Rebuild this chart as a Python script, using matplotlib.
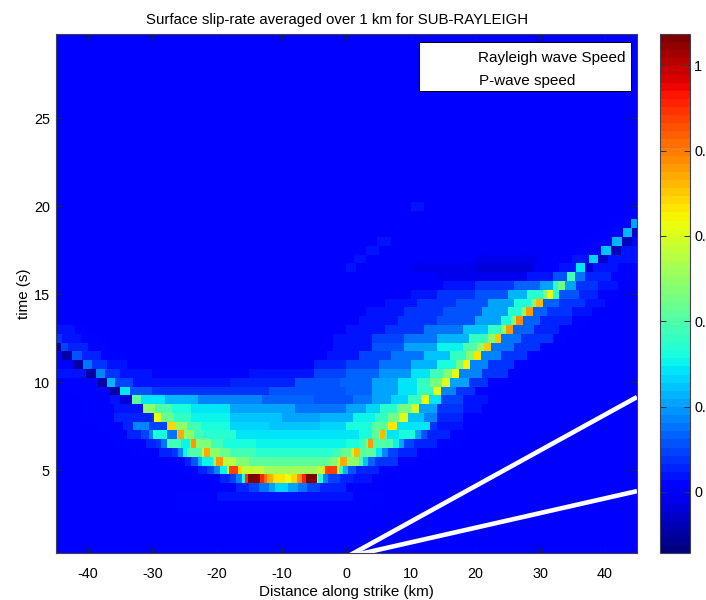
import matplotlib
matplotlib.use("Agg")
import matplotlib.pyplot as plt
from matplotlib.colors import Normalize
from matplotlib.cm import ScalarMappable

plt.rcParams['font.family'] = ['Liberation Sans', 'DejaVu Sans']
plt.rcParams['axes.unicode_minus'] = False

# Each row: (left edge of a cell in km, slip-rate in the cell); last pair closes the row
row_030 = [(-26,.015),(4,0)]
row_035 = [(-26,.015),(-20,.03),(-4,.03),(1,.02),(6,0)]
row_040 = [(-21,.02),(-17,.05),(-15,.09),(-13.5,.15),(-12,.2),(-11,.26),(-9,.2),(-7.5,.15),(-6,.09),(-4,.05),(0,.02),(3,0)]
row_045 = [(-21,.02),(-19.5,.05),(-18,.1),(-17,.17),(-16.2,.34),(-15.6,.9),(-15.2,1.07),(-13.4,.92),(-12.8,.82),(-12.2,.74),(-11.4,.66),(-9.5,.63),(-8.6,.68),(-7.6,.78),(-6.9,.92),(-6.3,1.07),(-4.6,.6),(-4.3,.34),(-3.6,.17),(-2.8,.1),(-1,.06),(1,.03),(4,0)]
row_050 = [(-26,.02),(-23,.05),(-21.5,.1),(-20.5,.17),(-19.6,.3),(-18.5,.6),(-18.2,.87),(-16.7,.68),(-16.2,.56),(-12.8,.52),(-6.5,.52),(-4.5,.56),(-3.6,.68),(-3.3,.87),(-1.5,.55),(-1.1,.38),(-.5,.22),(.3,.12),(1.5,.05),(5,.02),(8,0)]
row_055 = [(-28,.02),(-25,.05),(-24,.12),(-23,.22),(-22.4,.3),(-20.6,.5),(-20.2,.76),(-19.1,.55),(-17,.47),(-15,.42),(-5,.42),(-2.5,.47),(-1.4,.55),(-1,.74),(.1,.5),(2,.38),(2.6,.25),(3.4,.13),(4.5,.07),(8,.02),(11,0)]
row_060 = [(-33,.02),(-29,.05),(-27,.08),(-26,.18),(-25.3,.3),(-24.6,.4),(-22.3,.55),(-22,.74),(-21.1,.5),(-19.5,.44),(-18,.37),(-14,.34),(-6,.34),(-2,.37),(-.6,.44),(.8,.55),(1.2,.72),(2.2,.42),(4.6,.28),(5.5,.18),(6.5,.1),(8,.05),(11,.02),(14,0)]
row_065 = [(-35,.02),(-31,.05),(-29.5,.08),(-28.6,.16),(-27.8,.38),(-25.6,.3),(-24.2,.45),(-24,.76),(-23.2,.48),(-21,.38),(-19,.33),(-14,.31),(-5,.31),(0,.33),(2,.38),(3,.46),(3.3,.75),(4.1,.4),(7.3,.3),(8.2,.2),(9,.1),(10.5,.05),(14,.02),(17,0)]
row_070 = [(-37,.02),(-34,.05),(-31.8,.1),(-30.6,.18),(-29.9,.33),(-27.8,.16),(-26.2,.45),(-26,.74),(-25.1,.5),(-23.5,.38),(-22,.34),(-17,.29),(-3,.29),(2,.33),(4,.42),(5,.5),(5.2,.72),(5.95,.38),(6.3,.28),(8.2,.33),(10.6,.2),(11.5,.11),(12.5,.05),(16,.02),(19,0)]
row_075 = [(-38,.02),(-34.5,.06),(-33,.18),(-30.6,.1),(-27.8,.68),(-26.4,.5),(-24.6,.38),(-22.5,.32),(-18,.27),(-12,.24),(-4,.26),(0,.33),(4,.42),(6.5,.67),(7.9,.28),(13,.08),(14,.03),(18,0)]
row_080 = [(-40,.01),(-36,.05),(-30,.07),(-29.7,.62),(-28.6,.44),(-26.6,.36),(-24,.31),(-18,.24),(-10,.2),(-4,.23),(1,.3),(4.5,.36),(6.5,.46),(8.2,.6),(9.6,.24),(12,.17),(14,.06),(18,.02),(21,0)]
row_085 = [(-40,.02),(-36,.04),(-31.5,.5),(-29.6,.4),(-27,.33),(-24,.28),(-18,.2),(-8,.15),(0,.2),(3,.26),(5.3,.34),(7.9,.46),(10,.58),(11.2,.2),(14,.08),(18,.03),(21,0)]
row_090 = [(-40,.01),(-36.5,.03),(-35,-.03),(-33.2,.42),(-31.7,.28),(-28,.23),(-23,.18),(-13,.14),(-5,.12),(1,.15),(4,.2),(7,.27),(9.5,.36),(11.5,.62),(12.8,.28),(14.6,.1),(18,.03),(22,0)]
row_095 = [(-42,.01),(-36.6,-.1),(-35,.28),(-33.5,.12),(-30,.07),(-22,.08),(-12,.11),(0,.14),(4,.2),(8,.28),(11,.36),(13.4,.62),(14.6,.18),(17,.07),(20,.02),(23,0)]
row_100 = [(-44,.02),(-38.4,-.1),(-37,.22),(-35.8,.1),(-33,.03),(-18,.06),(-8,.11),(-1,.14),(4,.2),(8,.28),(11,.36),(13,.45),(14.8,.6),(16,.2),(19,.07),(22,.02),(25,0)]
row_105 = [(-45,.03),(-40.3,-.1),(-38.8,.18),(-37.3,.08),(-35,.03),(-30,.01),(-15,.04),(-5,.09),(0,.13),(5,.19),(10,.28),(13,.38),(15,.47),(16.4,.62),(17.5,.18),(21,.07),(25,.02),(27,0)]
row_110 = [(-45,.02),(-42.3,-.1),(-40.8,.15),(-39.3,.08),(-37,.03),(-34,0),(-5,.05),(0,.09),(5,.15),(10,.23),(14,.33),(17,.46),(18.1,.65),(19.2,.18),(22,.07),(26,.02),(28,0)]
row_115 = [(-45,.01),(-44,-.1),(-42.5,.12),(-40.9,.06),(-38,.02),(-35,0),(-3,.04),(2,.09),(7,.16),(12,.24),(16,.36),(18.5,.48),(19.7,.66),(20.8,.18),(24,.07),(28,.02),(30,0)]
row_120 = [(-45,-.1),(-44.2,.1),(-43,.05),(-40,.02),(-37,0),(-2,.04),(4,.12),(9,.2),(14,.3),(18,.4),(20.3,.52),(21.3,.7),(22.4,.15),(26,.07),(30,.02),(32,0)]
row_125 = [(-45,.08),(-44,.04),(-41,.02),(-38,0),(-2,.03),(4,.09),(9,.15),(14,.23),(19,.36),(22,.5),(23,.7),(24,.15),(27,.07),(32,.02),(34,0)]
row_130 = [(-45,.03),(-42,.01),(-40,0),(0,.03),(6,.08),(12,.15),(18,.24),(22,.36),(24,.5),(24.7,.75),(25.8,.14),(29,.06),(33,.02),(36,0)]
row_135 = [(2,.03),(8,.07),(14,.12),(20,.2),(24,.33),(25.5,.48),(26.2,.78),(27.4,.14),(30,.06),(35,.02),(37,0)]
row_140 = [(3,.03),(9,.07),(15,.12),(21,.2),(25,.34),(27,.48),(27.8,.75),(28.9,.14),(31,.08),(35,.03),(38,0)]
row_145 = [(6,.03),(11,.07),(17,.12),(22,.2),(26,.32),(28.6,.48),(29.4,.72),(30.5,.14),(33,.08),(37,.03),(40,0)]
row_150 = [(10,.03),(14,.07),(20,.12),(25,.22),(28,.35),(30.5,.48),(31,.62),(32,.35),(33,.12),(36,.06),(39,.02),(42,0)]
row_155 = [(15,.03),(20,.07),(26,.14),(30,.2),(32,.35),(32.7,.45),(33.8,.2),(35.5,.08),(39,.03),(42,0)]
row_160 = [(14,-.02),(28,.03),(32,.12),(34.2,.38),(35.4,.15),(37,.06),(41,.02),(44,0)]
row_165 = [(0,.03),(1.5,0),(10,-.01),(20,-.03),(29,0),(33,.03),(35.6,.28),(37,-.03),(38.2,.04),(42,.02),(45,0)]
row_170 = [(1.2,.03),(3,0),(20,-.015),(30,.0),(35,.03),(37.5,.27),(39,-.06),(40.5,.03),(45,0)]
row_175 = [(3,.03),(5,0),(36,.02),(39.4,.25),(41,-.07),(42.6,.03),(45,0)]
row_180 = [(4.8,.03),(7,0),(37,.02),(41.1,.22),(42.7,-.07),(44.3,.02),(45,0)]
row_185 = [(39,.02),(42.8,.22),(44.3,-.06),(45,0)]
row_190 = [(41,.02),(44,.2),(45,0)]
row_200 = [(10,.03),(12,0)]

row_times = [3.0, 3.5, 4.0, 4.5, 5.0, 5.5, 6.0, 6.5, 7.0, 7.5, 8.0, 8.5, 9.0, 9.5, 10.0,
             10.5, 11.0, 11.5, 12.0, 12.5, 13.0, 13.5, 14.0, 14.5, 15.0, 15.5, 16.0,
             16.5, 17.0, 17.5, 18.0, 18.5, 19.0, 20.0]
row_cells = [row_030, row_035, row_040, row_045, row_050, row_055, row_060, row_065, row_070,
             row_075, row_080, row_085, row_090, row_095, row_100, row_105, row_110, row_115,
             row_120, row_125, row_130, row_135, row_140, row_145, row_150, row_155, row_160,
             row_165, row_170, row_175, row_180, row_185, row_190, row_200]
row_step = 0.5

rayleigh_x = [-0.2, 45]
rayleigh_t = [0, 9.15]
pwave_x = [-0.6, 45]
pwave_t = [0, 3.8]

x_ticks = [-40, -30, -20, -10, 0, 10, 20, 30, 40]
y_ticks = [5, 10, 15, 20, 25]
cbar_ticks = [0, 0.2, 0.4, 0.6, 0.8, 1]
cbar_labels = ['0', '0.2', '0.4', '0.6', '0.8', '1']
vmin, vmax = -0.143, 1.073

W, H = 706, 600
fig = plt.figure(figsize=(W / 100, H / 100), dpi=100)
ax = fig.add_axes([55.5 / W, 1 - 553 / H, 581.5 / W, 519 / H])
cmap = plt.get_cmap('jet', 64)
norm = Normalize(vmin, vmax)
ax.set_facecolor(cmap(norm(0)))

for t, cells in zip(row_times, row_cells):
    edges = [c[0] for c in cells]
    vals = [[c[1] for c in cells[:-1]]]
    ax.pcolormesh(edges, [t - row_step / 2, t + row_step / 2], vals, cmap=cmap, norm=norm,
                  shading='flat', antialiased=False, linewidth=0)

ax.plot(rayleigh_x, rayleigh_t, color='white', lw=3.3, label='Rayleigh wave Speed', solid_capstyle='butt')
ax.plot(pwave_x, pwave_t, color='white', lw=3.3, label='P-wave speed', solid_capstyle='butt')

ax.set_xlim(-45, 45)
ax.set_ylim(0.28, 29.8)
ax.set_xticks(x_ticks)
ax.set_yticks(y_ticks)
ax.tick_params(direction='in', length=4, width=0.7, color='#202030', top=True, right=True,
               labelsize=10.4)
ax.tick_params(axis='x', pad=10)
ax.tick_params(axis='y', pad=4)
for s in ax.spines.values():
    s.set_linewidth(0.8)
    s.set_color('#404050')
ax.set_xlabel('Distance along strike (km)', fontsize=10.9, labelpad=3)
ax.set_ylabel('time (s)', fontsize=10.9, labelpad=2)
ax.set_title('Surface slip-rate averaged over 1 km for SUB-RAYLEIGH', fontsize=10.8, pad=7, x=0.484)

leg = ax.legend(loc='upper right', bbox_to_anchor=((631 - 55.5) / 581.5, 1 - 8 / 519), borderaxespad=0,
                fancybox=False, framealpha=1, edgecolor='black', facecolor='white', fontsize=11,
                handlelength=2.6, handletextpad=0.86, borderpad=0.38, labelspacing=0.63)
leg.get_frame().set_linewidth(0.7)
leg.get_texts()[0].set_position((0, -3))
leg.get_texts()[1].set_position((1, -3))

cax = fig.add_axes([660 / W, 1 - 553 / H, 30 / W, 519 / H])
cb = fig.colorbar(ScalarMappable(norm=norm, cmap=cmap), cax=cax, ticks=cbar_ticks)
cb.ax.set_yticklabels(cbar_labels)
cb.ax.tick_params(direction='in', length=4, width=0.7, color='#303040', left=True, right=True,
                  labelsize=10.4, pad=3)
cb.outline.set_linewidth(0.8)
cb.outline.set_edgecolor('#404050')

fig.savefig('out.png', dpi=100)
